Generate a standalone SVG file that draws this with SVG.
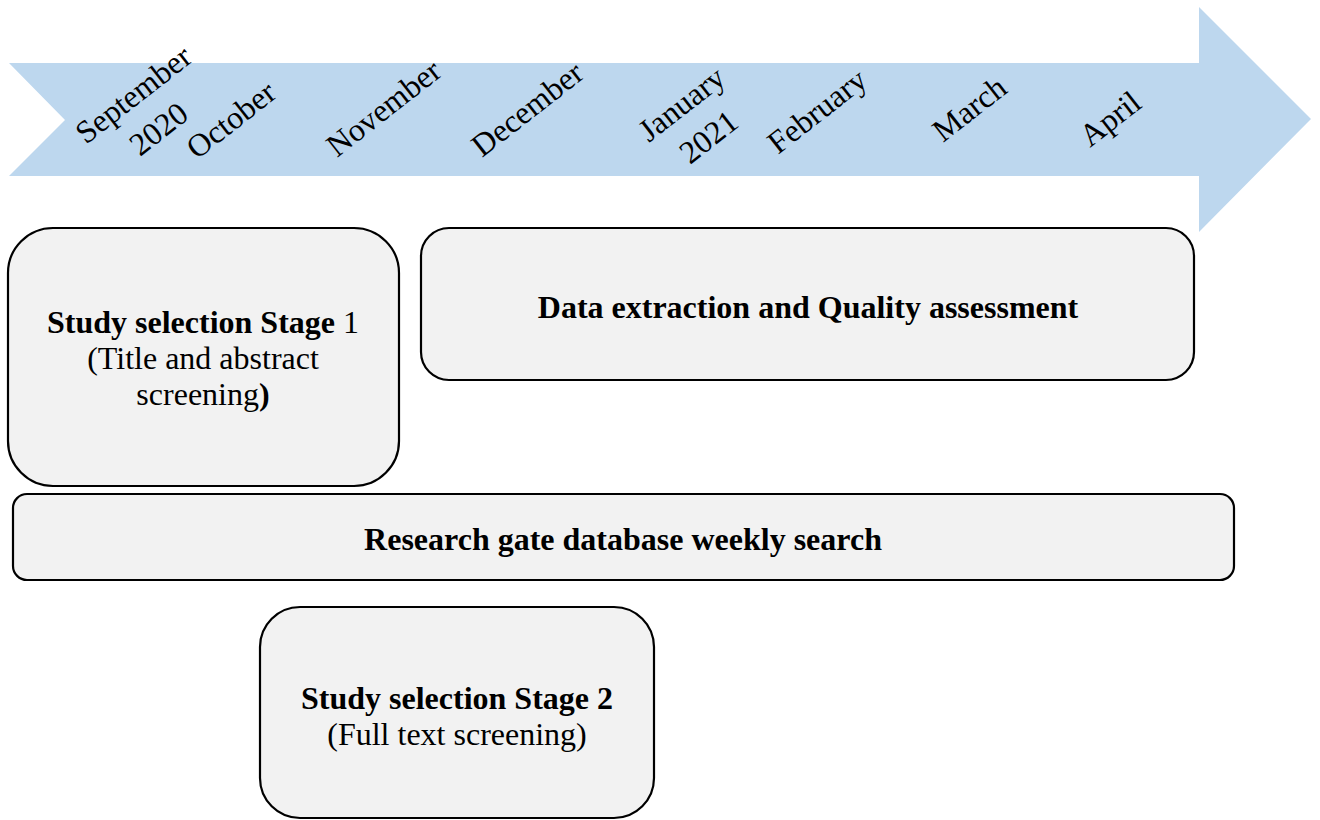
<svg xmlns="http://www.w3.org/2000/svg" width="1320" height="820" viewBox="0 0 1320 820">
<style>
.box{fill:#F2F2F2;stroke:#000;stroke-width:2.2}
.t{font-family:"Liberation Serif","Times New Roman",serif;font-size:32px;fill:#000;text-anchor:middle}
.b{font-weight:bold}
.m{font-family:"Liberation Serif","Times New Roman",serif;font-size:32px;fill:#000}
</style>
<rect width="1320" height="820" fill="#fff"/>
<g id="timeline">
<polygon points="9,63 1199,63 1199,7 1311,119 1199,232 1199,176 9,176 65,120" fill="#BDD7EE"/>
<text class="m" transform="translate(86,145) rotate(-38)">September</text>
<text class="m" transform="translate(140,157) rotate(-38)">2020</text>
<text class="m" transform="translate(197,160) rotate(-38)">October</text>
<text class="m" transform="translate(337,158) rotate(-38)">November</text>
<text class="m" transform="translate(482,158) rotate(-38)">December</text>
<text class="m" transform="translate(649,143) rotate(-38)">January</text>
<text class="m" transform="translate(690,165) rotate(-38)">2021</text>
<text class="m" transform="translate(778,155) rotate(-38)">February</text>
<text class="m" transform="translate(943,143) rotate(-38)">March</text>
<text class="m" transform="translate(1090,148) rotate(-38)">April</text>
</g>
<g id="stage1">
<rect class="box" x="8" y="228" width="391" height="258" rx="45"/>
<text class="t" x="203" y="333"><tspan class="b">Study selection Stage</tspan> 1</text>
<text class="t" x="203" y="369">(Title and abstract</text>
<text class="t" x="203" y="405">screening<tspan class="b">)</tspan></text>
</g>
<g id="extraction">
<rect class="box" x="421" y="228" width="773" height="152" rx="28"/>
<text class="t b" x="808" y="318">Data extraction and Quality assessment</text>
</g>
<g id="search">
<rect class="box" x="13" y="494" width="1221" height="86" rx="14"/>
<text class="t b" x="623" y="550">Research gate database weekly search</text>
</g>
<g id="stage2">
<rect class="box" x="260" y="607" width="394" height="211" rx="40"/>
<text class="t b" x="457" y="709">Study selection Stage 2</text>
<text class="t" x="457" y="745">(Full text screening)</text>
</g>
<g id="connectors"/>
</svg>
